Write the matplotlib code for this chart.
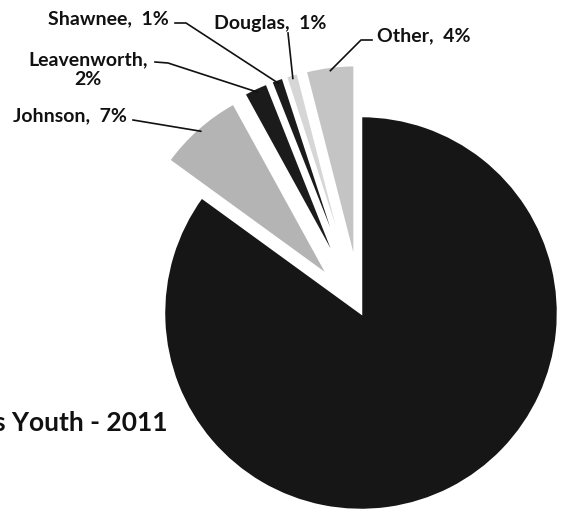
import matplotlib
matplotlib.use("Agg")
import matplotlib.pyplot as plt
import numpy as np

plt.rcParams['font.family'] = ['Lato', 'DejaVu Sans']

# Данные
counties = ["Other", "Douglas", "Shawnee", "Leavenworth", "Johnson", ""]
shares = [4, 1, 1, 2, 7, 85]
labels = ["Other,  4%", "Douglas,  1%", "Shawnee,  1%", "Leavenworth,\n2%", "Johnson,  7%", ""]
colors = ["#c4c4c4", "#d6d6d6", "#1b1b1b", "#1b1b1b", "#b4b4b4", "#161616"]
explode = [0.26, 0.26, 0.26, 0.26, 0.25, 0]

W, H = 563, 513
cx, cy, R = 361, 313, 197


def P(x, y):
    # пиксели картинки -> координаты осей
    return (x - cx, cy - y)


fig = plt.figure(figsize=(W / 100, H / 100), dpi=100)
ax = fig.add_axes([0, 0, 1, 1])

# explode в pie задаётся в единицах данных, поэтому умножаем на радиус
wedges, _ = ax.pie(shares, colors=colors, explode=[e * R for e in explode],
                   startangle=90, counterclock=True, radius=R,
                   wedgeprops=dict(edgecolor="white", linewidth=1.8))
ax.set_xlim(-cx, W - cx)
ax.set_ylim(cy - H, cy)
ax.set_aspect("equal")
ax.axis("off")

# подписи: позиция текста, выравнивание, точки выноски
label_pos = {
    "Other": dict(xy=(377, 36), ha="left", path=[(372, 40), (361, 40)]),
    "Douglas": dict(xy=(270, 23), ha="center", path=[(288, 33)]),
    "Shawnee": dict(xy=(169, 19), ha="right", path=[(175, 23), (186, 23)]),
    "Leavenworth": dict(xy=(88, 70), ha="center", path=[(155, 62), (168, 63)]),
    "Johnson": dict(xy=(127, 116), ha="right", path=[(133, 120)]),
}

for w, name, lab in zip(wedges, counties, labels):
    if name not in label_pos:
        continue
    opt = label_pos[name]
    mid = np.deg2rad((w.theta1 + w.theta2) / 2)
    tip = (w.center[0] + 0.98 * w.r * np.cos(mid), w.center[1] + 0.98 * w.r * np.sin(mid))
    ax.text(*P(*opt["xy"]), lab, ha=opt["ha"], va="center", fontsize=14,
            fontweight="bold", color="#111111", linespacing=1.2)
    pts = [P(*p) for p in opt["path"]] + [tip]
    xs, ys = zip(*pts)
    ax.plot(xs, ys, color="#111111", lw=1.2)

# заголовок в оригинале обрезан левым краем
ax.text(*P(167, 423), "Kansas Youth - 2011", ha="right", va="center",
        fontsize=19, fontweight="bold", color="#111111")

fig.savefig("out.png", dpi=100)
